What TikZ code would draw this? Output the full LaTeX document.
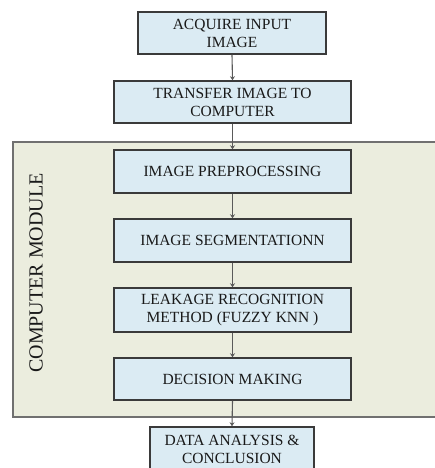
\documentclass[tikz,border=0pt]{standalone}
\usepackage{fontspec}
\setmainfont{Liberation Serif}
\usetikzlibrary{arrows.meta}
\definecolor{boxfill}{HTML}{DBEBF3}
\definecolor{boxline}{HTML}{3A3A3A}
\definecolor{modfill}{HTML}{EBEDDE}
\definecolor{modline}{HTML}{707070}
\definecolor{arrowcol}{HTML}{5A5A5A}
\tikzset{
  stepbox/.style={draw=boxline, line width=1.5pt, fill=boxfill, align=center,
    inner sep=0pt, font=\fontsize{15.5}{18}\selectfont, text=black!90},
  flow/.style={draw=arrowcol, line width=1.1pt, -{Stealth[length=4pt,width=5pt]}},
}
\begin{document}
\begin{tikzpicture}[x=1pt,y=-1pt]
\useasboundingbox (0,0) rectangle (435,468);
% module
\node[draw=modline, line width=1.5pt, fill=modfill, minimum width=430pt, minimum height=275pt, inner sep=0pt, anchor=north west] (mod) at (12,141) {};
\node[rotate=90, font=\fontsize{20}{24}\selectfont, text=black!90] (modlabel) at (36,273) {COMPUTER MODULE};
% boxes
\node[stepbox, minimum width=188pt, minimum height=42pt] (b1) at (232,33) {ACQUIRE INPUT\\IMAGE};
\node[stepbox, minimum width=237pt, minimum height=42pt] (b2) at (232.5,102) {TRANSFER IMAGE TO\\COMPUTER};
\node[stepbox, minimum width=237pt, minimum height=43pt] (b3) at (232.5,171.5) {IMAGE PREPROCESSING};
\node[stepbox, minimum width=237pt, minimum height=43pt] (b4) at (232.5,240.5) {IMAGE SEGMENTATIONN};
\node[stepbox, minimum width=237pt, minimum height=44pt] (b5) at (232.5,310) {LEAKAGE RECOGNITION\\METHOD (FUZZY KNN )};
\node[stepbox, minimum width=237pt, minimum height=42pt] (b6) at (232.5,379) {DECISION MAKING};
\node[stepbox, minimum width=164pt, minimum height=44pt] (b7) at (232,449) {DATA ANALYSIS \&\\CONCLUSION};
% arrows
\draw[flow] (b1.south) -- (b2.north);
\draw[flow] (b2.south) -- (b3.north);
\draw[flow] (b3.south) -- (b4.north);
\draw[flow] (b4.south) -- (b5.north);
\draw[flow] (b5.south) -- (b6.north);
\draw[flow] (b6.south) -- (b7.north);
\end{tikzpicture}
\end{document}
